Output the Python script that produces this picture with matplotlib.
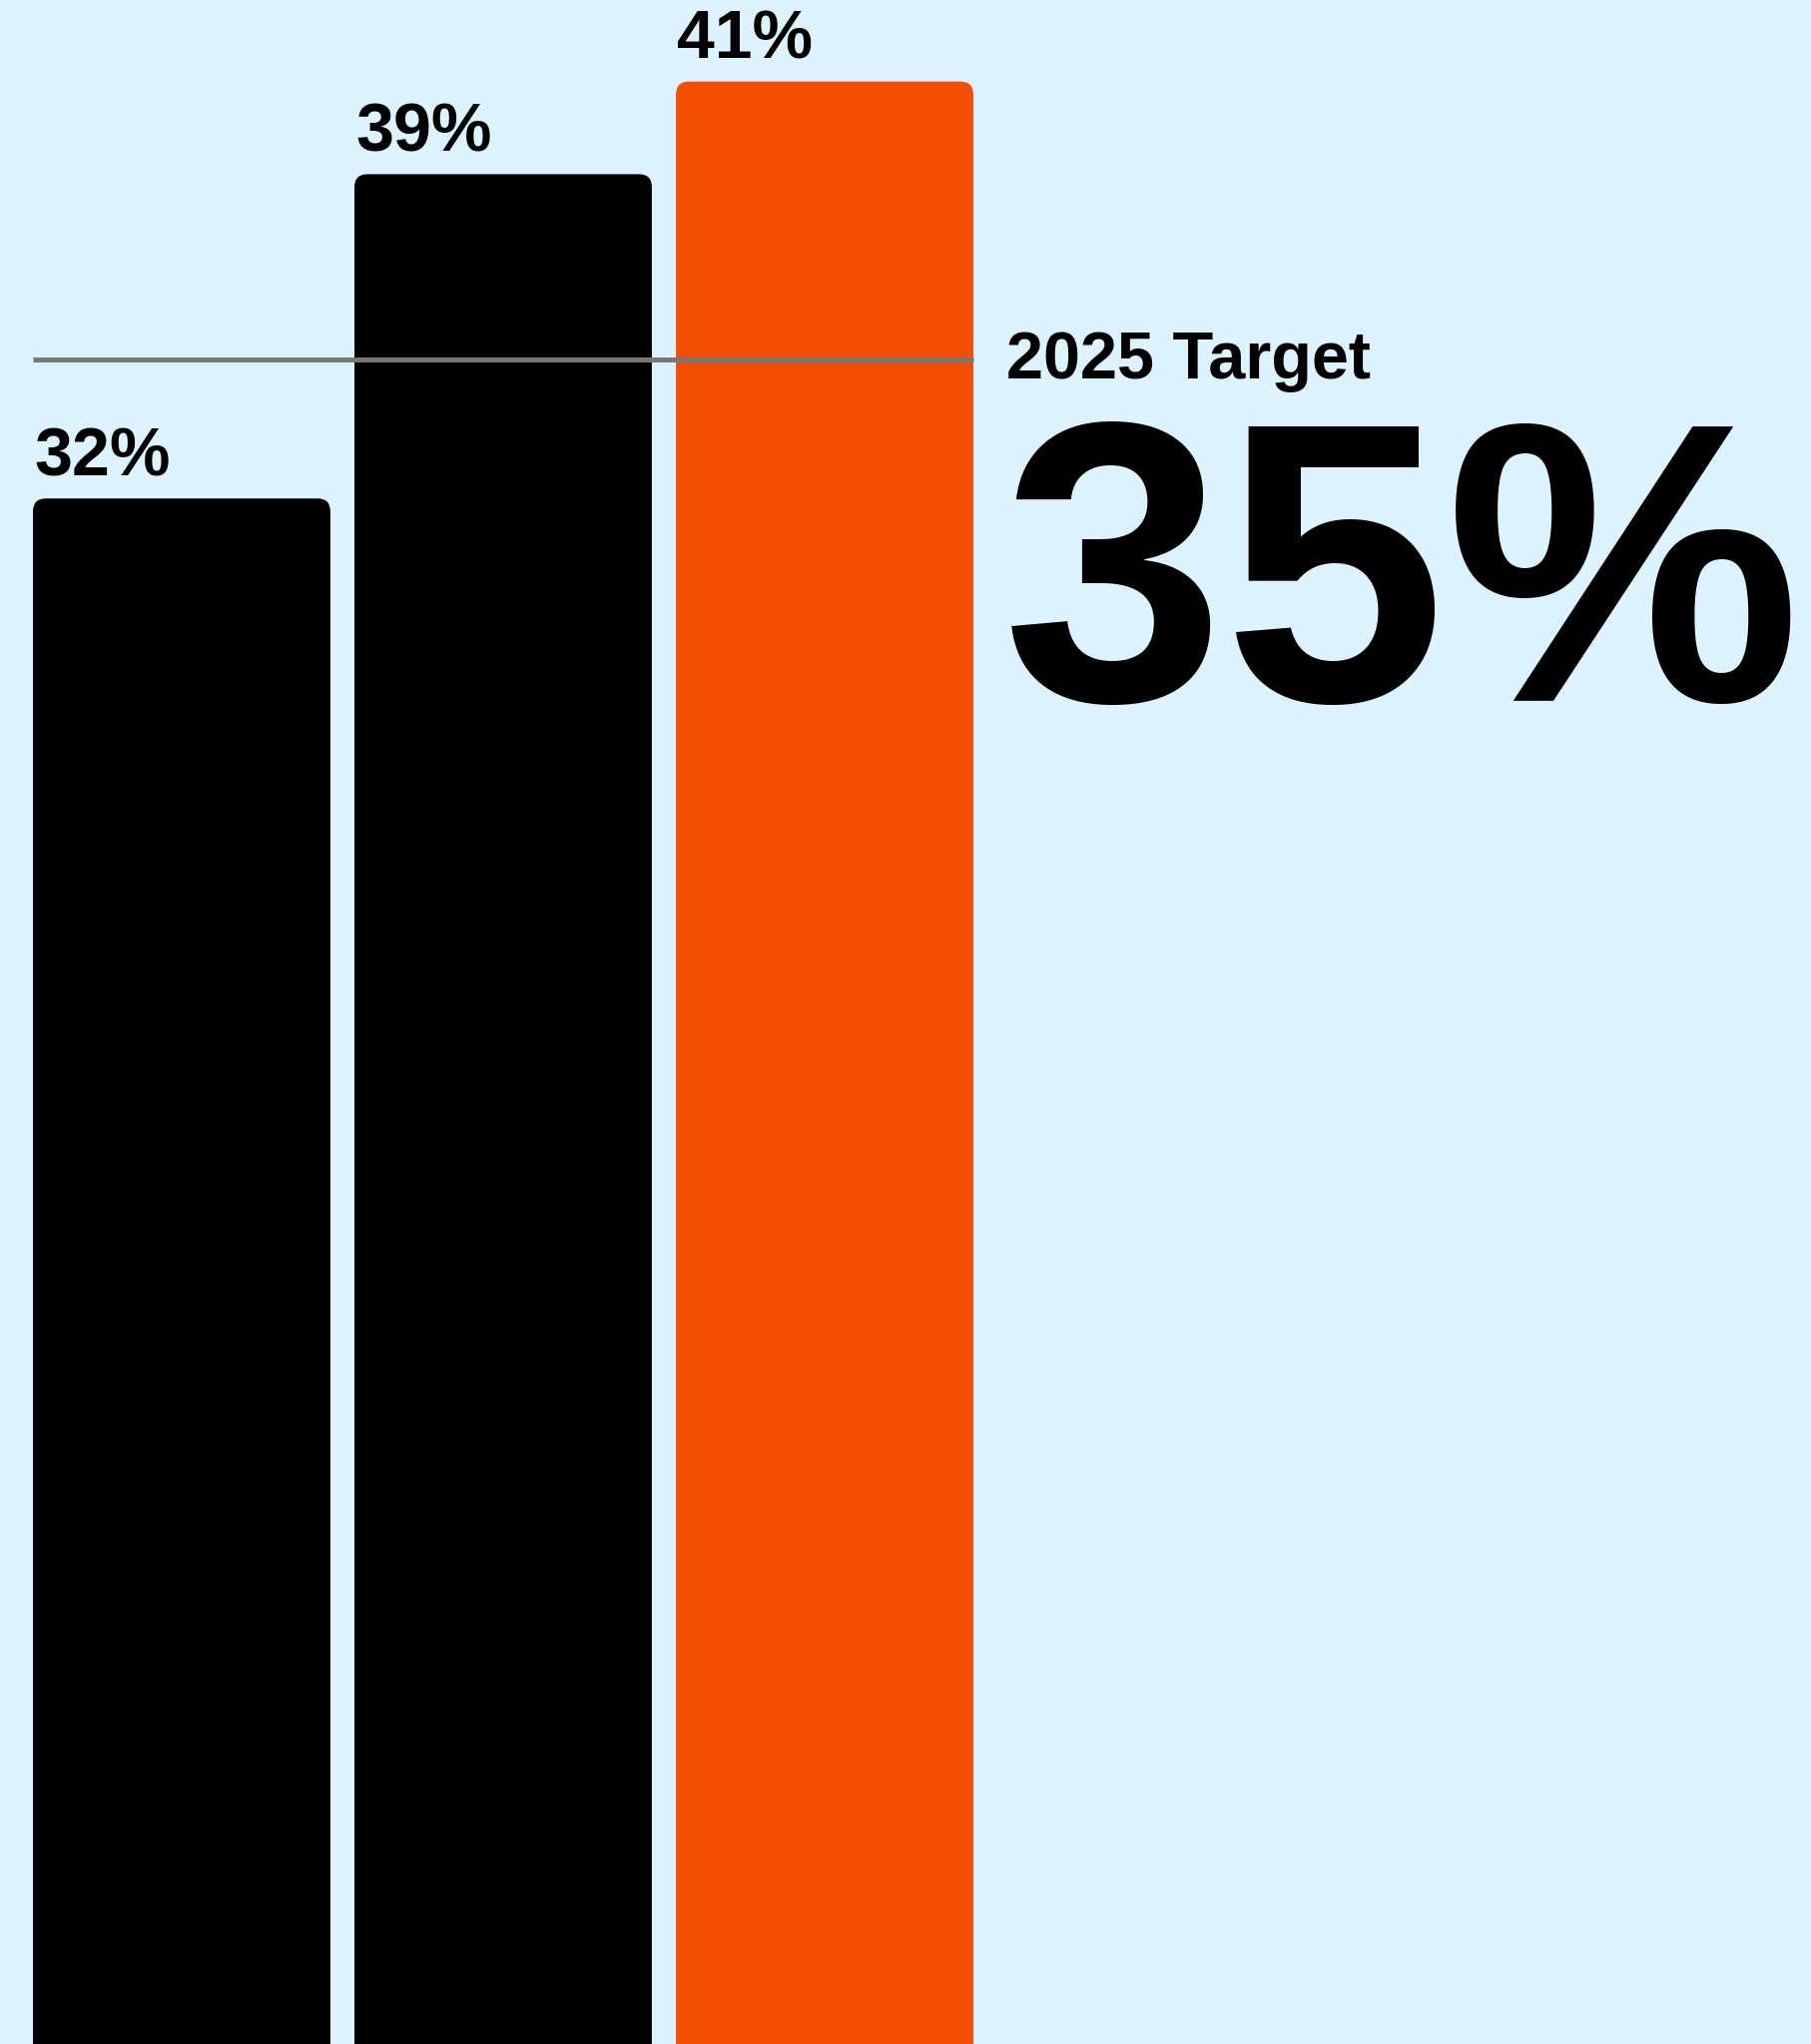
import numpy as np
import matplotlib
matplotlib.use("Agg")
import matplotlib.pyplot as plt
from matplotlib.patches import FancyBboxPatch

# Data
categories = ["2023", "2024", "2025"]
values = [32, 39, 41]
bar_colors = ["#000000", "#000000", "#F44E04"]
target_value = 35
target_label = "2025 Target"

bg = "#DDF3FF"
plt.rcParams["font.family"] = ["Liberation Sans", "DejaVu Sans"]

fig = plt.figure(figsize=(18.15, 20.47), dpi=100, facecolor=bg)
ax = fig.add_axes([0, 0, 1, 1])
ax.set_facecolor(bg)

# scales chosen so bars fill the frame like the original
ax.set_xlim(-0.565, 5.071)
ax.set_ylim(-1.36, 42.76)
ax.axis("off")

x = np.arange(len(values))
w = 0.925
px_x = 1815 / (5.071 + 0.565)    # pixels per x unit
px_y = 2047 / (42.76 + 1.36)     # pixels per y unit
radius = 13 / px_x
aspect = px_x / px_y
y0 = -3

for xi, v, c in zip(x, values, bar_colors):
    patch = FancyBboxPatch((xi - w / 2, y0), w, v - y0,
                           boxstyle=f"round,pad=0,rounding_size={radius}",
                           mutation_aspect=aspect, fc=c, ec="none", zorder=2)
    ax.add_patch(patch)
    ax.annotate(f"{v}%", xy=(xi - w / 2, v), xytext=(1, 16.5),
                textcoords="offset points", ha="left", va="baseline",
                fontsize=49, fontweight="bold", color="black")

# target line across the bars
ax.plot([x[0] - w / 2, x[-1] + w / 2], [target_value, target_value],
        color="#777777", linewidth=3.6, solid_capstyle="butt", zorder=3)

ax.annotate(target_label, xy=(x[-1] + w / 2, target_value), xytext=(24, -14),
            textcoords="offset points", ha="left", va="baseline",
            fontsize=48, fontweight="bold", color="black")
ax.annotate(f"{target_value}%", xy=(x[-1] + w / 2, target_value), xytext=(21, -246),
            textcoords="offset points", ha="left", va="baseline",
            fontsize=288, fontweight="bold", color="black")

fig.savefig("out.png", dpi=100, facecolor=bg)
